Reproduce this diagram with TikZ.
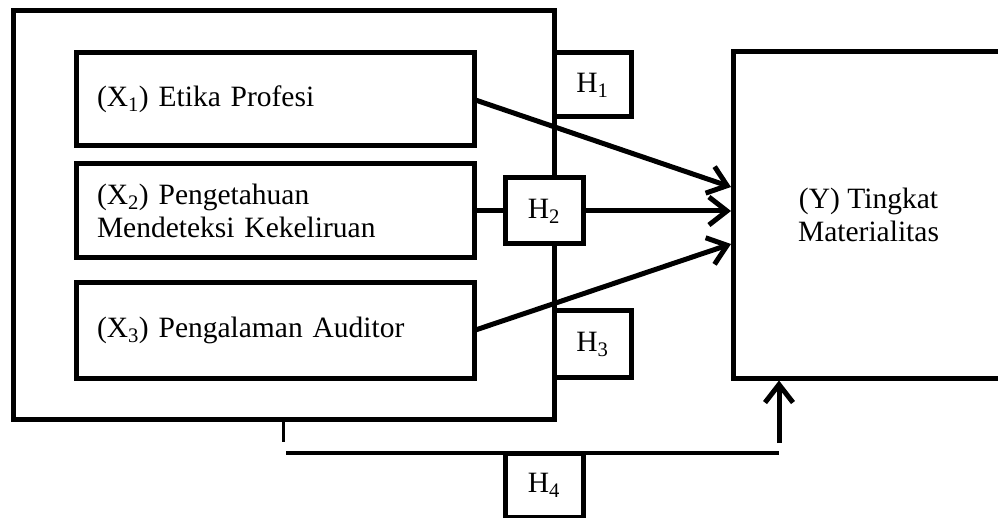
\documentclass[tikz,border=0pt]{standalone}
\usepackage{fontspec}
\setmainfont{Liberation Serif}
\usetikzlibrary{arrows.meta}
\begin{document}
\begin{tikzpicture}[x=1pt,y=-1pt,
  box/.style={draw, line width=5pt, rectangle, inner sep=0pt, outer sep=0pt, fill=white},
  lbl/.style={font=\fontsize{29.5}{33}\selectfont},
  arr/.style={line width=5pt, -{Straight Barb[length=18pt,width=28pt,line width=5pt]}}]
\useasboundingbox (0,0) rectangle (998,518);
% outer frame
\node[box, minimum width=541pt, minimum height=408pt] (outer) at (283.5,215) {};
% independent variables
\node[box, minimum width=398pt, minimum height=93pt, text width=356pt, align=left, lbl] (x1) at (275,99.5) {(X\textsubscript{1}) Etika Profesi};
\node[box, minimum width=398pt, minimum height=94pt, text width=356pt, align=left, lbl] (x2) at (275,211) {(X\textsubscript{2}) Pengetahuan\\Mendeteksi Kekeliruan};
\node[box, minimum width=398pt, minimum height=95pt, text width=356pt, align=left, lbl] (x3) at (275,330.5) {(X\textsubscript{3}) Pengalaman Auditor};
% dependent variable
\node[box, minimum width=271pt, minimum height=326pt, align=center, lbl] (y) at (868.5,215) {(Y) Tingkat\\Materialitas};
% hypothesis boxes
\node[box, minimum width=77pt, minimum height=64pt, lbl] (h1) at (592.5,85) {H\textsubscript{1}};
\node[box, minimum width=78pt, minimum height=66pt, lbl] (h2) at (544,211) {H\textsubscript{2}};
\node[box, minimum width=77pt, minimum height=66pt, lbl] (h3) at (592.5,344) {H\textsubscript{3}};
% connector end points
\coordinate (y1) at (731,187);
\coordinate (y2) at (731,211);
\coordinate (y3) at (731,244);
\coordinate (ybot) at (779,380.5);
\coordinate (vstart) at (779,443);
\coordinate (hl) at (286,453);
\coordinate (hr) at (779,453);
% connectors
\draw[arr] (x1.east) -- (y1);
\draw[line width=5pt] (x2.east) -- (h2.west);
\draw[arr] (h2.east) -- (y2);
\draw[arr] (x3.east) -- (y3);
\draw[line width=3.5pt] (outer.south) -- ++(0,23);
\draw[line width=3.2pt] (hl) -- (hr);
\draw[arr] (vstart) -- (ybot);
\node[box, minimum width=78pt, minimum height=64pt, lbl] (h4) at (544,485) {H\textsubscript{4}};
\end{tikzpicture}
\end{document}
